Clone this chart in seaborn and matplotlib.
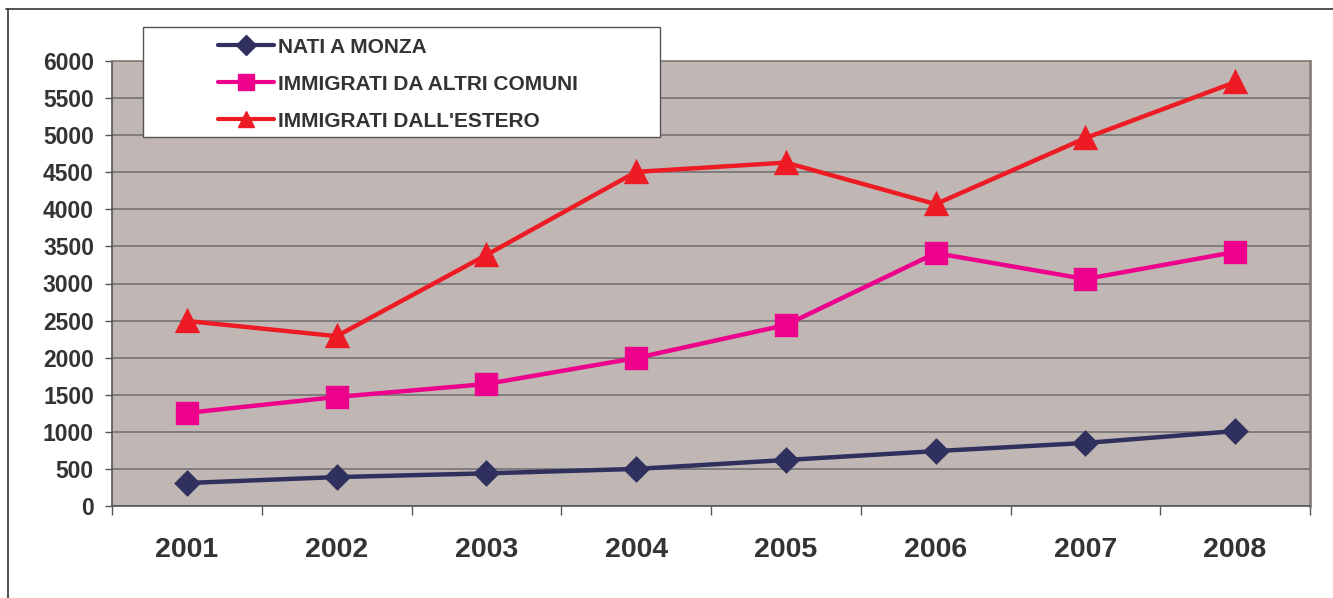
import pandas as pd
import matplotlib.pyplot as plt
import seaborn as sns
from matplotlib.lines import Line2D
from matplotlib.patches import Rectangle

# values
years = ['2001', '2002', '2003', '2004', '2005', '2006', '2007', '2008']
nati_monza = [310, 390, 440, 500, 620, 740, 850, 1010]
immigrati_comuni = [1255, 1470, 1645, 1995, 2440, 3410, 3060, 3425]
immigrati_estero = [2495, 2290, 3385, 4505, 4630, 4070, 4960, 5715]

series_names = ['NATI A MONZA', 'IMMIGRATI DA ALTRI COMUNI', "IMMIGRATI DALL'ESTERO"]
series_colors = ['#30305f', '#ec008c', '#ed1c24']
series_markers = ['D', 's', '^']
y_ticks = list(range(0, 6001, 500))

df = pd.concat([
    pd.DataFrame({'Anno': years, 'Valore': vals, 'Serie': name})
    for name, vals in zip(series_names, [nati_monza, immigrati_comuni, immigrati_estero])
])

sns.set_theme(style="white")
plt.rcParams['font.family'] = ['Liberation Sans', 'DejaVu Sans']
plt.rcParams['font.weight'] = 'bold'

fig = plt.figure(figsize=(13.33, 5.98), dpi=100)
ax = fig.add_axes([112 / 1333, 1 - 506 / 598, (1310 - 112) / 1333, (506 - 61) / 598])
ax.set_facecolor('#c0b6b3')

sns.pointplot(
    data=df, x='Anno', y='Valore', hue='Serie',
    order=years, hue_order=series_names,
    palette=series_colors, markers=series_markers,
    linestyles='-', dodge=False, errorbar=None,
    markersize=14, linewidth=3.2, ax=ax, zorder=3,
)
for line, m in zip(ax.lines, series_markers):
    if m == '^':
        line.set_markersize(15)
    elif m == 'D':
        line.set_markersize(11.5)

ax.set_ylim(0, 6000)
ax.set_xlim(-0.5, len(years) - 0.5)
ax.set_yticks(y_ticks)
ax.yaxis.grid(True, color='#6e6e6e', linewidth=1.1)
ax.set_axisbelow(True)
ax.set_xlabel('')
ax.set_ylabel('')

# category boundary ticks on the x axis
ax.set_xticks([i - 0.5 for i in range(len(years) + 1)], minor=True)
ax.tick_params(axis='x', which='minor', length=6.5, width=1, color='#555555', direction='out', bottom=True)
ax.tick_params(axis='x', which='major', length=0, pad=22, labelsize=20.5, labelcolor='#333333')
ax.tick_params(axis='y', length=5, width=1, color='#555555', direction='out', left=True,
               pad=8, labelsize=16.5, labelcolor='#333333')
for lbl in ax.get_xticklabels() + ax.get_yticklabels():
    lbl.set_fontweight('bold')

for side in ['left', 'bottom']:
    ax.spines[side].set_color('#555555')
    ax.spines[side].set_linewidth(1.2)
ax.spines['right'].set_color('#8a807d')
ax.spines['right'].set_linewidth(2)
ax.spines['top'].set_color('#8a807d')

if ax.get_legend() is not None:
    ax.get_legend().remove()

# outer chart frame (partly cropped in the reference)
fig.add_artist(Line2D([6 / 1333, 1], [1 - 9 / 598, 1 - 9 / 598], color='#333333', linewidth=1.2))
fig.add_artist(Line2D([8 / 1333, 8 / 1333], [0, 1 - 9 / 598], color='#333333', linewidth=1.2))

# legend box
fig.add_artist(Rectangle((143 / 1333, 1 - 137 / 598), (660 - 143) / 1333, (137 - 27) / 598,
                         facecolor='white', edgecolor='#555555', linewidth=1, zorder=4))
handles = [Line2D([], [], color=c, marker=m, linewidth=3,
                  markersize=(10 if m == 'D' else 11 if m == 's' else 12))
           for c, m in zip(series_colors, series_markers)]
leg = fig.legend(handles, series_names, loc='upper left',
                 bbox_to_anchor=(199 / 1333, 1 - 19 / 598), frameon=False,
                 handlelength=2.7, handletextpad=0.2, labelspacing=0.86,
                 prop={'size': 15, 'weight': 'bold'})
leg.set_zorder(5)
for t in leg.get_texts():
    t.set_color('#333333')

fig.savefig('out.png', dpi=100)
plt.close(fig)
